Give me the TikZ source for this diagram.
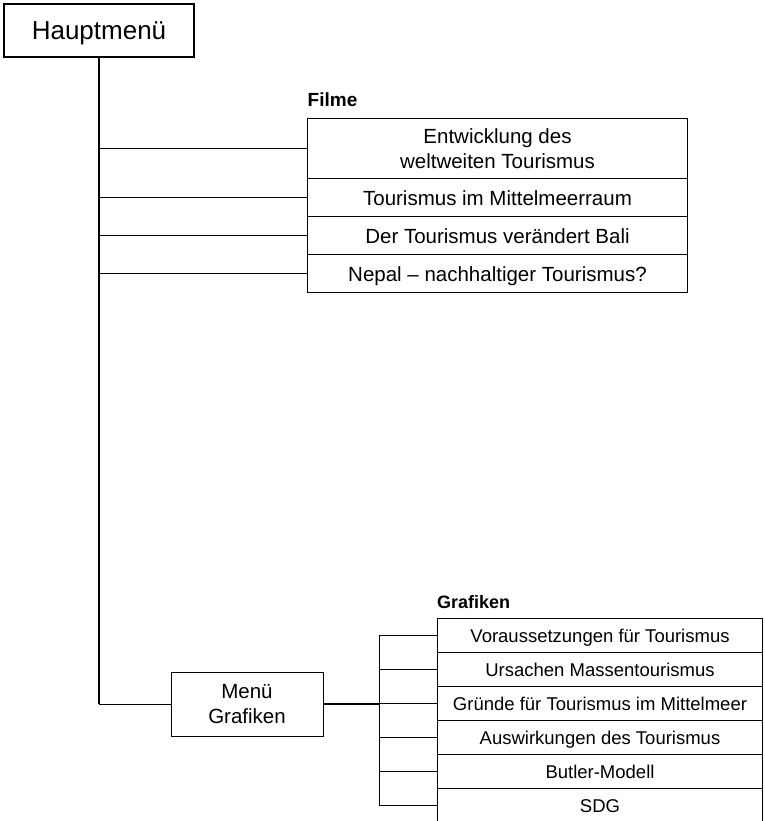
\documentclass[tikz,border=0pt]{standalone}
\usepackage{fontspec}
\setmainfont{Liberation Sans}
\begin{document}
\begin{tikzpicture}[x=1pt,y=-1pt,
  menubox/.style={draw=black,line width=1pt,inner sep=0pt,align=center,anchor=north west},
  filmrow/.style={menubox,minimum width=380pt,font=\fontsize{20.5}{24.5}\selectfont},
  filmone/.style={filmrow,minimum height=38pt,text height=15.4pt,text depth=0pt},
  grafrow/.style={menubox,minimum width=325pt,minimum height=34pt,text height=13.4pt,text depth=0pt,font=\fontsize{18.5}{22}\selectfont},
  conthin/.style={line width=1pt,draw=black},
  conthick/.style={line width=1.8pt,draw=black},
  grouplbl/.style={font=\bfseries,anchor=base west,inner sep=0pt}]
\useasboundingbox (0,0) rectangle (764,821);
% main menu
\node[draw=black,line width=2pt,inner sep=0pt,minimum width=190pt,minimum height=53pt,
      text height=19pt,text depth=0pt,
      font=\fontsize{26}{30}\selectfont] (haupt) at (99,30.5) {Hauptmenü};
% Filme
\node[grouplbl,font=\fontsize{19}{22}\selectfont\bfseries] (filmelbl) at (307.5,106.5) {Filme};
\node[filmrow,minimum height=60pt] (f1) at (307,118) {Entwicklung des\\weltweiten Tourismus};
\node[filmone] (f2) at (307,178) {Tourismus im Mittelmeerraum};
\node[filmone] (f3) at (307,216) {Der Tourismus verändert Bali};
\node[filmone] (f4) at (307,254) {Nepal – nachhaltiger Tourismus?};
% Menü Grafiken
\node[draw=black,line width=1pt,inner sep=0pt,minimum width=152pt,minimum height=64pt,align=center,
      font=\fontsize{20.5}{25}\selectfont] (mg) at (247,704) {Menü\\Grafiken};
% Grafiken
\node[grouplbl,font=\fontsize{18}{21}\selectfont\bfseries] (graflbl) at (437,608) {Grafiken};
\node[grafrow] (g1) at (437,618) {Voraussetzungen für Tourismus};
\node[grafrow] (g2) at (437,652) {Ursachen Massentourismus};
\node[grafrow] (g3) at (437,686) {Gründe für Tourismus im Mittelmeer};
\node[grafrow] (g4) at (437,720) {Auswirkungen des Tourismus};
\node[grafrow] (g5) at (437,754) {Butler-Modell};
\node[grafrow] (g6) at (437,788) {SDG};
% trunk
\draw[conthick] (haupt.south) -- (haupt.south |- mg.west);
\draw[conthin] (haupt.south |- mg.west) -- (mg.west);
\foreach \r in {f1,f2,f3,f4}
  \draw[conthin] (haupt.south |- \r.west) -- (\r.west);
% Grafiken bus
\coordinate (bus) at (379,704);
\draw[conthick] (mg.east) -- (bus);
\draw[conthin] (bus |- g1.west) -- (bus |- g6.west);
\foreach \r in {g1,g2,g3,g4,g5,g6}
  \draw[conthin] (bus |- \r.west) -- (\r.west);
\end{tikzpicture}
\end{document}
